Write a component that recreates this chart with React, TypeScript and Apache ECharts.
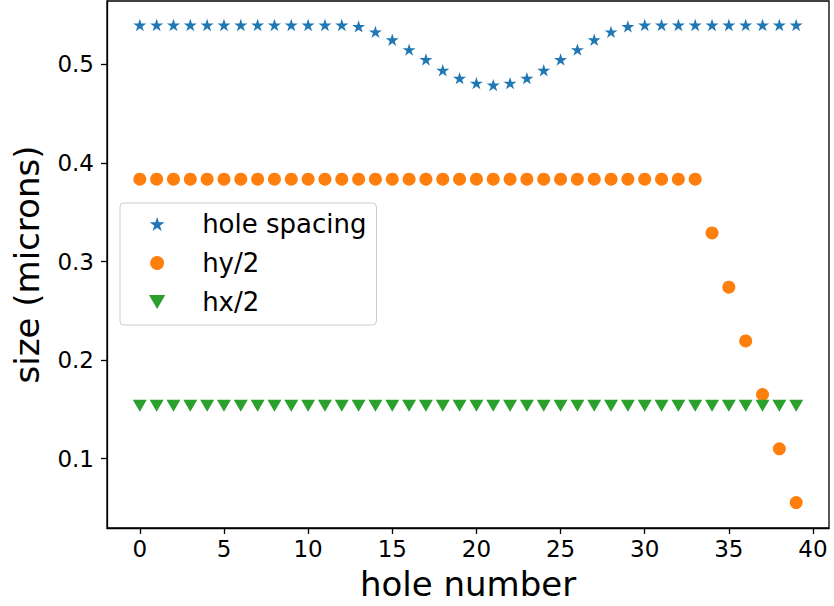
import React, { useEffect, useRef } from "react";
import * as echarts from "echarts";

const holeIndex = Array.from({ length: 40 }, (_, i) => i);
const holeSpacing = [
  0.54, 0.54, 0.54, 0.54, 0.54, 0.54, 0.54, 0.54, 0.54, 0.54,
  0.54, 0.54, 0.54, 0.5385, 0.533, 0.525, 0.515, 0.505, 0.494, 0.486,
  0.481, 0.479, 0.481, 0.486, 0.494, 0.505, 0.515, 0.525, 0.533, 0.5385,
  0.54, 0.54, 0.54, 0.54, 0.54, 0.54, 0.54, 0.54, 0.54, 0.54,
];
const hyHalf = [
  0.3835, 0.3835, 0.3835, 0.3835, 0.3835, 0.3835, 0.3835, 0.3835, 0.3835, 0.3835,
  0.3835, 0.3835, 0.3835, 0.3835, 0.3835, 0.3835, 0.3835, 0.3835, 0.3835, 0.3835,
  0.3835, 0.3835, 0.3835, 0.3835, 0.3835, 0.3835, 0.3835, 0.3835, 0.3835, 0.3835,
  0.3835, 0.3835, 0.3835, 0.3835, 0.329, 0.274, 0.2195, 0.165, 0.11, 0.0555,
];
const hxHalf = Array.from({ length: 40 }, () => 0.1537);
const xTicks = [0, 5, 10, 15, 20, 25, 30, 35, 40];
const yTicks = [0.1, 0.2, 0.3, 0.4, 0.5];
const seriesNames = ["hole spacing", "hy/2", "hx/2"];
const colors = ["#1f77b4", "#ff7f0e", "#2ca02c"];

const STAR =
  "path://M50,0 L61.2,34.5 L97.6,34.5 L68.2,55.9 L79.4,90.5 L50,69.1 L20.6,90.5 L31.8,55.9 L2.4,34.5 L38.8,34.5 Z";
const TRI_DOWN = "path://M0,0 L100,0 L50,86 Z";

const FONT = "DejaVu Sans";

export default function App() {
  const ref = useRef<HTMLDivElement>(null);
  useEffect(() => {
    if (!ref.current) return;
    const chart = echarts.init(ref.current, null, { renderer: "svg" });
    const pair = (ys: number[]) => holeIndex.map((x, i) => [x, ys[i]]);
    chart.setOption({
      animation: false,
      backgroundColor: "#ffffff",
      grid: {
        left: 107,
        right: 5,
        top: 1,
        bottom: 78,
        show: true,
        borderColor: "#000",
        borderWidth: 1.3,
        backgroundColor: "transparent",
      },
      legend: {
        left: 120,
        top: 203,
        orient: "vertical",
        padding: [8, 10, 10, 29],
        itemGap: 13,
        itemWidth: 30,
        itemHeight: 14,
        borderColor: "#cccccc",
        borderWidth: 1,
        borderRadius: 4,
        backgroundColor: "rgba(255,255,255,0.8)",
        textStyle: {
          fontFamily: FONT,
          fontSize: 26,
          lineHeight: 26,
          color: "#000",
          padding: [0, 0, 0, 25],
        },
        data: [
          { name: seriesNames[0], itemStyle: { opacity: 1 } },
          { name: seriesNames[1], itemStyle: { opacity: 1 } },
          { name: seriesNames[2], itemStyle: { opacity: 1 } },
        ],
      },
      xAxis: {
        type: "value",
        min: -1.95,
        max: 40.95,
        name: "hole number",
        nameLocation: "middle",
        nameGap: 39,
        nameTextStyle: { fontFamily: FONT, fontSize: 34, color: "#000" },
        axisLine: { show: true, onZero: false, lineStyle: { color: "#000", width: 1.3 } },
        axisTick: { show: true, length: 6, customValues: xTicks, lineStyle: { color: "#000", width: 1.3 } },
        axisLabel: {
          customValues: xTicks,
          fontFamily: FONT,
          fontSize: 23,
          color: "#000",
          margin: 9,
        },
        splitLine: { show: false },
      },
      yAxis: {
        type: "value",
        min: 0.0297,
        max: 0.5643,
        name: "size (microns)",
        nameLocation: "middle",
        nameGap: 63,
        nameTextStyle: { fontFamily: FONT, fontSize: 34, color: "#000" },
        axisLine: { show: true, onZero: false, lineStyle: { color: "#000", width: 1.3 } },
        axisTick: { show: true, length: 6, customValues: yTicks, lineStyle: { color: "#000", width: 1.3 } },
        axisLabel: {
          customValues: yTicks,
          fontFamily: FONT,
          fontSize: 23,
          color: "#000",
          margin: 13,
          formatter: (v: number) => v.toFixed(1),
        },
        splitLine: { show: false },
      },
      series: [
        {
          name: seriesNames[0],
          type: "scatter",
          data: pair(holeSpacing),
          symbol: STAR,
          symbolKeepAspect: true,
          symbolSize: 13,
          itemStyle: { color: colors[0], opacity: 1 },
          z: 3,
        },
        {
          name: seriesNames[1],
          type: "scatter",
          data: pair(hyHalf),
          symbol: "circle",
          symbolSize: 13,
          itemStyle: { color: colors[1], opacity: 1 },
          z: 4,
        },
        {
          name: seriesNames[2],
          type: "scatter",
          data: pair(hxHalf),
          symbol: TRI_DOWN,
          symbolKeepAspect: true,
          symbolSize: 14,
          itemStyle: { color: colors[2], opacity: 1 },
          z: 5,
        },
      ],
    });
    return () => chart.dispose();
  }, []);
  return <div ref={ref} style={{ width: 834, height: 606, position: "absolute", left: 0, top: 0 }} />;
}
